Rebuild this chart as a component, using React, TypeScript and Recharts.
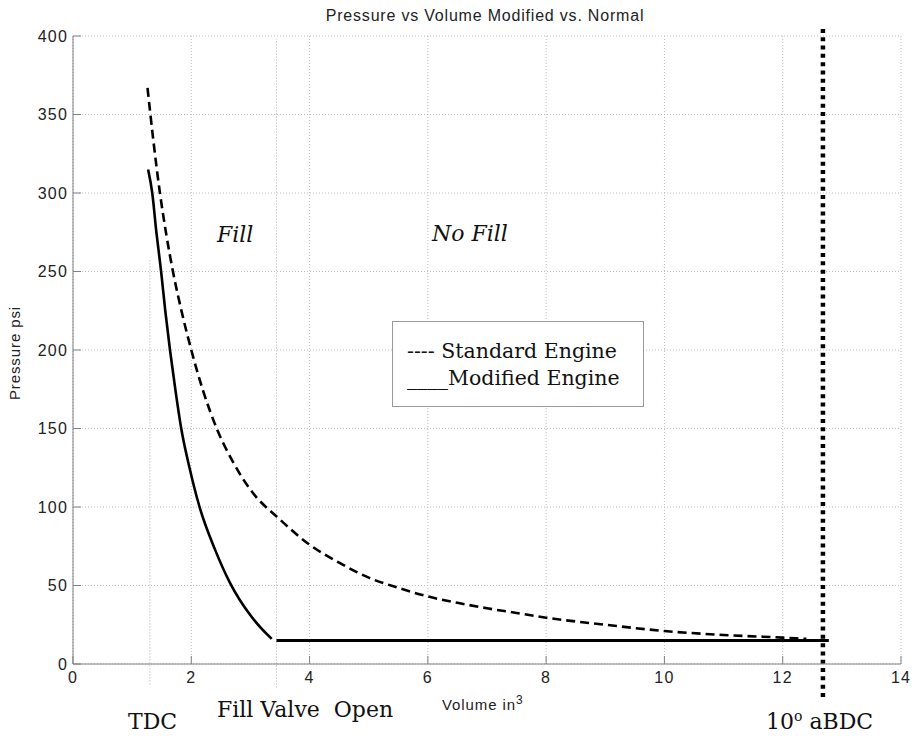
import { CartesianGrid, Line, LineChart, ReferenceLine, XAxis, YAxis } from "recharts";

const chartTitle = "Pressure vs Volume Modified vs. Normal";
const xAxisTitle = "Volume in";
const yAxisTitle = "Pressure psi";

const xTicks = [0, 2, 4, 6, 8, 10, 12, 14];
const yTicks = [0, 50, 100, 150, 200, 250, 300, 350, 400];

// standard engine (dashed)
const standardVolume = [
  1.26, 1.36, 1.47, 1.58, 1.69, 1.84, 2.0, 2.2, 2.43, 2.7, 3.0, 3.5, 4.0, 4.5, 5.0, 5.5, 6.0,
  6.5, 7.0, 7.5, 8.0, 9.0, 10.0, 11.0, 12.0, 12.4,
];
const standardPressure = [
  367, 333, 300, 273, 250, 224, 200, 174, 150, 129, 111, 92, 76, 64.5, 55, 48.5, 43, 39, 35.5,
  32.5, 29.5, 25, 21, 18.5, 16.8, 16,
];

// modified engine (solid), fill phase then flat at fill pressure
const modifiedVolume = [1.27, 1.34, 1.41, 1.49, 1.56, 1.64, 1.73, 1.83, 1.97, 2.14, 2.4, 2.65, 3.0, 3.2, 3.36];
const modifiedPressure = [315, 300, 275, 250, 225, 200, 175, 150, 125, 100, 73, 52, 31, 22, 16];
const flatVolume = [3.44, 12.78];
const flatPressure = [15, 15];

const tdcVolume = 1.3;
const fillValveVolume = 3.44;
const abdcVolume = 12.68;

const standardData = standardVolume.map((v, i) => ({ v, p: standardPressure[i] }));
const modifiedData = modifiedVolume.map((v, i) => ({ v, p: modifiedPressure[i] }));
const flatData = flatVolume.map((v, i) => ({ v, p: flatPressure[i] }));

const sans = "'Liberation Sans', Arial, sans-serif";
const serif = "'DejaVu Serif', serif";
const tickStyle = { fontSize: 16, fill: "#222", fontFamily: sans, letterSpacing: 1.2 };

export default function App() {
  return (
    <div style={{ position: "absolute", left: 0, top: 0, width: 912, height: 736, background: "#fff" }}>
      <LineChart width={912} height={736} margin={{ top: 36, right: 11, bottom: 0, left: 0 }}>
        <CartesianGrid stroke="#bdbdbd" strokeDasharray="1 2" />
        <XAxis
          dataKey="v"
          type="number"
          domain={[0, 14]}
          ticks={xTicks}
          allowDataOverflow
          height={72}
          fontSize={16}
          fontFamily={sans}
          tick={tickStyle}
          tickSize={-8}
          tickMargin={16}
          tickLine={{ stroke: "#808080" }}
          axisLine={{ stroke: "#808080" }}
        />
        <XAxis
          xAxisId="top"
          orientation="top"
          type="number"
          domain={[0, 14]}
          ticks={xTicks}
          height={0}
          tickSize={-8}
          tickFormatter={() => ""}
          tickLine={{ stroke: "#808080" }}
          axisLine={{ stroke: "#808080" }}
        />
        <YAxis
          type="number"
          domain={[0, 400]}
          ticks={yTicks}
          width={73}
          fontSize={16}
          fontFamily={sans}
          tick={tickStyle}
          tickSize={-8}
          tickMargin={13}
          tickLine={{ stroke: "#808080" }}
          axisLine={{ stroke: "#808080" }}
        />
        <YAxis
          yAxisId="right"
          orientation="right"
          type="number"
          domain={[0, 400]}
          ticks={yTicks}
          width={0}
          tickSize={-8}
          tickFormatter={() => ""}
          tickLine={{ stroke: "#808080" }}
          axisLine={{ stroke: "#808080" }}
        />
        <ReferenceLine
          segment={[{ x: tdcVolume, y: -13 }, { x: tdcVolume, y: 258 }]}
          stroke="#a8a8a8"
          strokeDasharray="1 2"
          ifOverflow="visible"
        />
        <ReferenceLine
          segment={[{ x: fillValveVolume, y: -15 }, { x: fillValveVolume, y: 398 }]}
          stroke="#a8a8a8"
          strokeDasharray="1 2"
          ifOverflow="visible"
        />
        <Line
          data={standardData}
          dataKey="p"
          type="monotone"
          stroke="#000"
          strokeWidth={2.6}
          strokeDasharray="9 5"
          dot={false}
          isAnimationActive={false}
        />
        <Line
          data={modifiedData}
          dataKey="p"
          type="monotone"
          stroke="#000"
          strokeWidth={2.6}
          dot={false}
          isAnimationActive={false}
        />
        <Line
          data={flatData}
          dataKey="p"
          type="linear"
          stroke="#000"
          strokeWidth={3}
          dot={false}
          isAnimationActive={false}
        />
        <ReferenceLine
          segment={[{ x: abdcVolume, y: -21 }, { x: abdcVolume, y: 405 }]}
          stroke="#000"
          strokeWidth={4.5}
          strokeDasharray="4 4.3"
          ifOverflow="visible"
        />
      </LineChart>

      <svg
        width={912}
        height={736}
        style={{ position: "absolute", left: 0, top: 0, pointerEvents: "none" }}
      >
        <text x={485} y={21} textAnchor="middle" fontFamily={sans} fontSize={16} letterSpacing={0.8} fill="#222">
          {chartTitle}
        </text>
        <text x={442} y={710} fontFamily={sans} fontSize={15} letterSpacing={0.9} fill="#222">
          {xAxisTitle}
          <tspan dy={-6} fontSize={12}>3</tspan>
        </text>
        <text
          transform="translate(20,353) rotate(-90)"
          textAnchor="middle"
          fontFamily={sans}
          fontSize={15}
          letterSpacing={0.9}
          fill="#222"
        >
          {yAxisTitle}
        </text>

        <text x={217} y={242} fontFamily={serif} fontStyle="italic" fontSize={22} fill="#111">
          Fill
        </text>
        <text x={432} y={241} fontFamily={serif} fontStyle="italic" fontSize={22} fill="#111">
          No Fill
        </text>

        <rect x={392.5} y={321.5} width={251} height={85} fill="#fff" stroke="#9a9a9a" />
        <text x={407} y={358} fontFamily={serif} fontSize={20.5} fill="#111">
          ---- Standard Engine
        </text>
        <text x={407} y={385} fontFamily={serif} fontSize={20.5} fill="#111">
          ____Modified Engine
        </text>

        <text x={128} y={729} fontFamily={serif} fontSize={22} fill="#111">
          TDC
        </text>
        <text x={217} y={717} fontFamily={serif} fontSize={22} fill="#111" style={{ whiteSpace: "pre" }}>
          {"Fill Valve  Open"}
        </text>
        <text x={766} y={729} fontFamily={serif} fontSize={22} fill="#111">
          10
          <tspan dy={-8} fontSize={14}>o</tspan>
          <tspan dy={8}> aBDC</tspan>
        </text>
      </svg>
    </div>
  );
}
